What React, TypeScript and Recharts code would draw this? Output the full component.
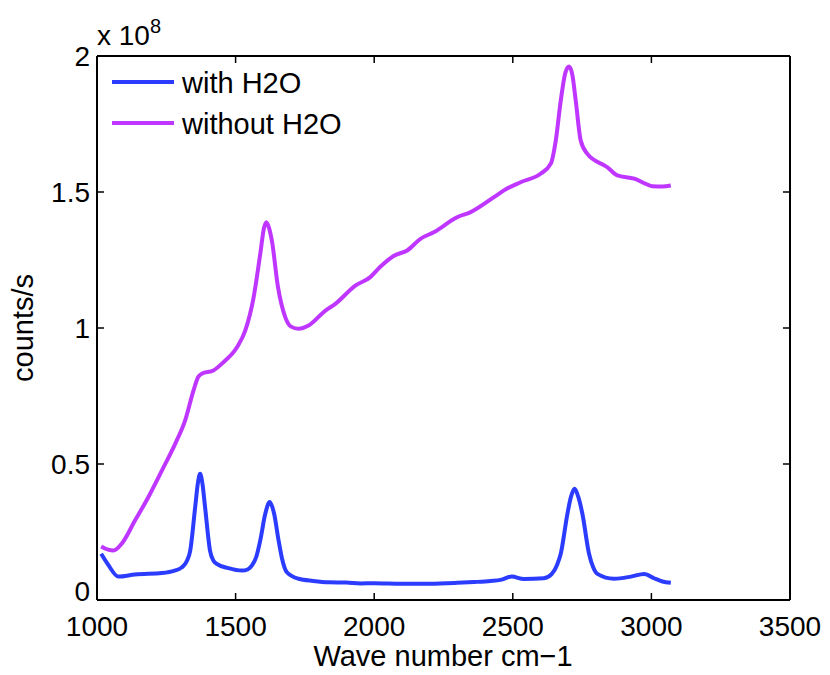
import React from "react";
import { LineChart, Line, XAxis, YAxis, Customized } from "recharts";

const FONT = '"Liberation Sans", Arial, Helvetica, sans-serif';
const BLUE = "#2b3cff";
const PURPLE = "#be36ff";

const xTicks = [1000, 1500, 2000, 2500, 3000, 3500];
const yTicks = [0, 0.5, 1, 1.5, 2];

const waveWith = [1015, 1040, 1077, 1137, 1234, 1280, 1306, 1325, 1336, 1354, 1364, 1372, 1380, 1390, 1408, 1420, 1432, 1474, 1523, 1545, 1559, 1575, 1589, 1607, 1623, 1639, 1655, 1668, 1685, 1727, 1780, 1836, 1900, 1950, 2000, 2100, 2200, 2300, 2360, 2420, 2456, 2496, 2540, 2612, 2640, 2660, 2673, 2697, 2710, 2723, 2736, 2751, 2775, 2790, 2805, 2865, 2926, 2974, 3010, 3040, 3070];
const countsWith = [0.17, 0.13, 0.086, 0.094, 0.099, 0.108, 0.12, 0.145, 0.18, 0.34, 0.43, 0.464, 0.43, 0.34, 0.18, 0.145, 0.133, 0.117, 0.108, 0.113, 0.127, 0.16, 0.219, 0.317, 0.36, 0.317, 0.219, 0.15, 0.102, 0.078, 0.07, 0.065, 0.064, 0.061, 0.062, 0.06, 0.06, 0.063, 0.066, 0.07, 0.074, 0.086, 0.077, 0.08, 0.095, 0.13, 0.17, 0.317, 0.38, 0.409, 0.38, 0.317, 0.17, 0.12, 0.096, 0.078, 0.086, 0.096, 0.08, 0.068, 0.063];

const waveWithout = [1015, 1040, 1059, 1089, 1137, 1185, 1234, 1282, 1318, 1348, 1365, 1378, 1420, 1456, 1505, 1535, 1565, 1589, 1603, 1611, 1620, 1631, 1653, 1679, 1700, 1727, 1763, 1824, 1860, 1932, 1986, 2022, 2070, 2119, 2167, 2215, 2299, 2348, 2432, 2468, 2528, 2600, 2637, 2655, 2673, 2690, 2703, 2715, 2727, 2745, 2769, 2841, 2877, 2938, 2980, 3004, 3040, 3070];
const countsWithout = [0.197, 0.185, 0.182, 0.207, 0.292, 0.378, 0.476, 0.574, 0.66, 0.77, 0.82, 0.832, 0.844, 0.874, 0.929, 0.991, 1.113, 1.273, 1.37, 1.389, 1.37, 1.32, 1.15, 1.04, 1.005, 0.997, 1.009, 1.064, 1.089, 1.156, 1.187, 1.225, 1.265, 1.285, 1.328, 1.352, 1.407, 1.426, 1.481, 1.506, 1.536, 1.567, 1.604, 1.689, 1.836, 1.94, 1.961, 1.93, 1.836, 1.689, 1.64, 1.591, 1.561, 1.549, 1.53, 1.521, 1.52, 1.524];

const seriesNames = ["with H2O", "without H2O"];

const dataWith = waveWith.map((x, i) => ({ x, y: countsWith[i] }));
const dataWithout = waveWithout.map((x, i) => ({ x, y: countsWithout[i] }));

const TICK_LEN = 7;

const BottomTick = (props: any) => {
  const { x, y, payload } = props;
  return (
    <g>
      <line x1={x} y1={y} x2={x} y2={y - TICK_LEN} stroke="#000" strokeWidth={1.5} />
      <text x={x} y={y + 36} textAnchor="middle" fontSize={28} fontFamily={FONT} fill="#000">
        {payload.value}
      </text>
    </g>
  );
};

const TopTick = (props: any) => {
  const { x, y } = props;
  return <line x1={x} y1={y} x2={x} y2={y + TICK_LEN} stroke="#000" strokeWidth={1.5} />;
};

const LeftTick = (props: any) => {
  const { x, y, payload } = props;
  const dy = payload.value === 0 ? 1 : 10;
  return (
    <g>
      <line x1={x} y1={y} x2={x + TICK_LEN} y2={y} stroke="#000" strokeWidth={1.5} />
      <text x={x - 7} y={y + dy} textAnchor="end" fontSize={28} fontFamily={FONT} fill="#000">
        {String(payload.value)}
      </text>
    </g>
  );
};

const RightTick = (props: any) => {
  const { x, y } = props;
  return <line x1={x} y1={y} x2={x - TICK_LEN} y2={y} stroke="#000" strokeWidth={1.5} />;
};

const colors = [BLUE, PURPLE];

const Extras = () => (
  <g fontFamily={FONT} fill="#000">
    {seriesNames.map((name, i) => (
      <g key={name}>
        <line x1={112} x2={174} y1={82 + i * 41} y2={82 + i * 41} stroke={colors[i]} strokeWidth={4} />
        <text x={182} y={93 + i * 41} fontSize={29}>
          {name}
        </text>
      </g>
    ))}
    <text x={97} y={45} fontSize={28}>
      x 10
    </text>
    <text x={150} y={33} fontSize={20}>
      8
    </text>
    <text x={443} y={666} fontSize={29} textAnchor="middle">
      Wave number cm−1
    </text>
    <text x={33} y={328} fontSize={29} textAnchor="middle" transform="rotate(-90 33 328)">
      counts/s
    </text>
  </g>
);

export default function App() {
  return (
    <div style={{ position: "absolute", left: 0, top: 0, background: "#fff" }}>
      <LineChart width={830} height={675} margin={{ top: 55, right: 39, left: 0, bottom: 0 }}>
        <XAxis
          dataKey="x"
          type="number"
          domain={[1000, 3500]}
          ticks={xTicks}
          allowDataOverflow
          height={75}
          tickSize={0}
          tickMargin={0}
          tickLine={false}
          axisLine={{ stroke: "#000", strokeWidth: 2 }}
          tick={<BottomTick />}
          interval={0}
        />
        <XAxis
          xAxisId="t"
          orientation="top"
          dataKey="x"
          type="number"
          domain={[1000, 3500]}
          ticks={xTicks}
          allowDataOverflow
          height={1}
          tickSize={0}
          tickMargin={0}
          tickLine={false}
          axisLine={{ stroke: "#000", strokeWidth: 2 }}
          tick={<TopTick />}
          interval={0}
        />
        <YAxis
          type="number"
          domain={[0, 2]}
          ticks={yTicks}
          width={97}
          tickSize={0}
          tickMargin={0}
          tickLine={false}
          axisLine={{ stroke: "#000", strokeWidth: 2 }}
          tick={<LeftTick />}
          interval={0}
        />
        <YAxis
          yAxisId="r"
          orientation="right"
          type="number"
          domain={[0, 2]}
          ticks={yTicks}
          allowDataOverflow
          width={1}
          tickSize={0}
          tickMargin={0}
          tickLine={false}
          axisLine={{ stroke: "#000", strokeWidth: 2 }}
          tick={<RightTick />}
          interval={0}
        />
        <Line
          data={dataWith}
          dataKey="y"
          name={seriesNames[0]}
          type="monotone"
          stroke={BLUE}
          strokeWidth={4}
          dot={false}
          activeDot={false}
          isAnimationActive={false}
        />
        <Line
          data={dataWithout}
          dataKey="y"
          name={seriesNames[1]}
          type="monotone"
          stroke={PURPLE}
          strokeWidth={4}
          dot={false}
          activeDot={false}
          isAnimationActive={false}
        />
        <Line
          xAxisId="t"
          yAxisId="r"
          data={dataWith}
          dataKey="y"
          legendType="none"
          stroke="none"
          strokeWidth={0}
          dot={false}
          activeDot={false}
          isAnimationActive={false}
        />
        <Customized component={<Extras />} />
      </LineChart>
    </div>
  );
}
